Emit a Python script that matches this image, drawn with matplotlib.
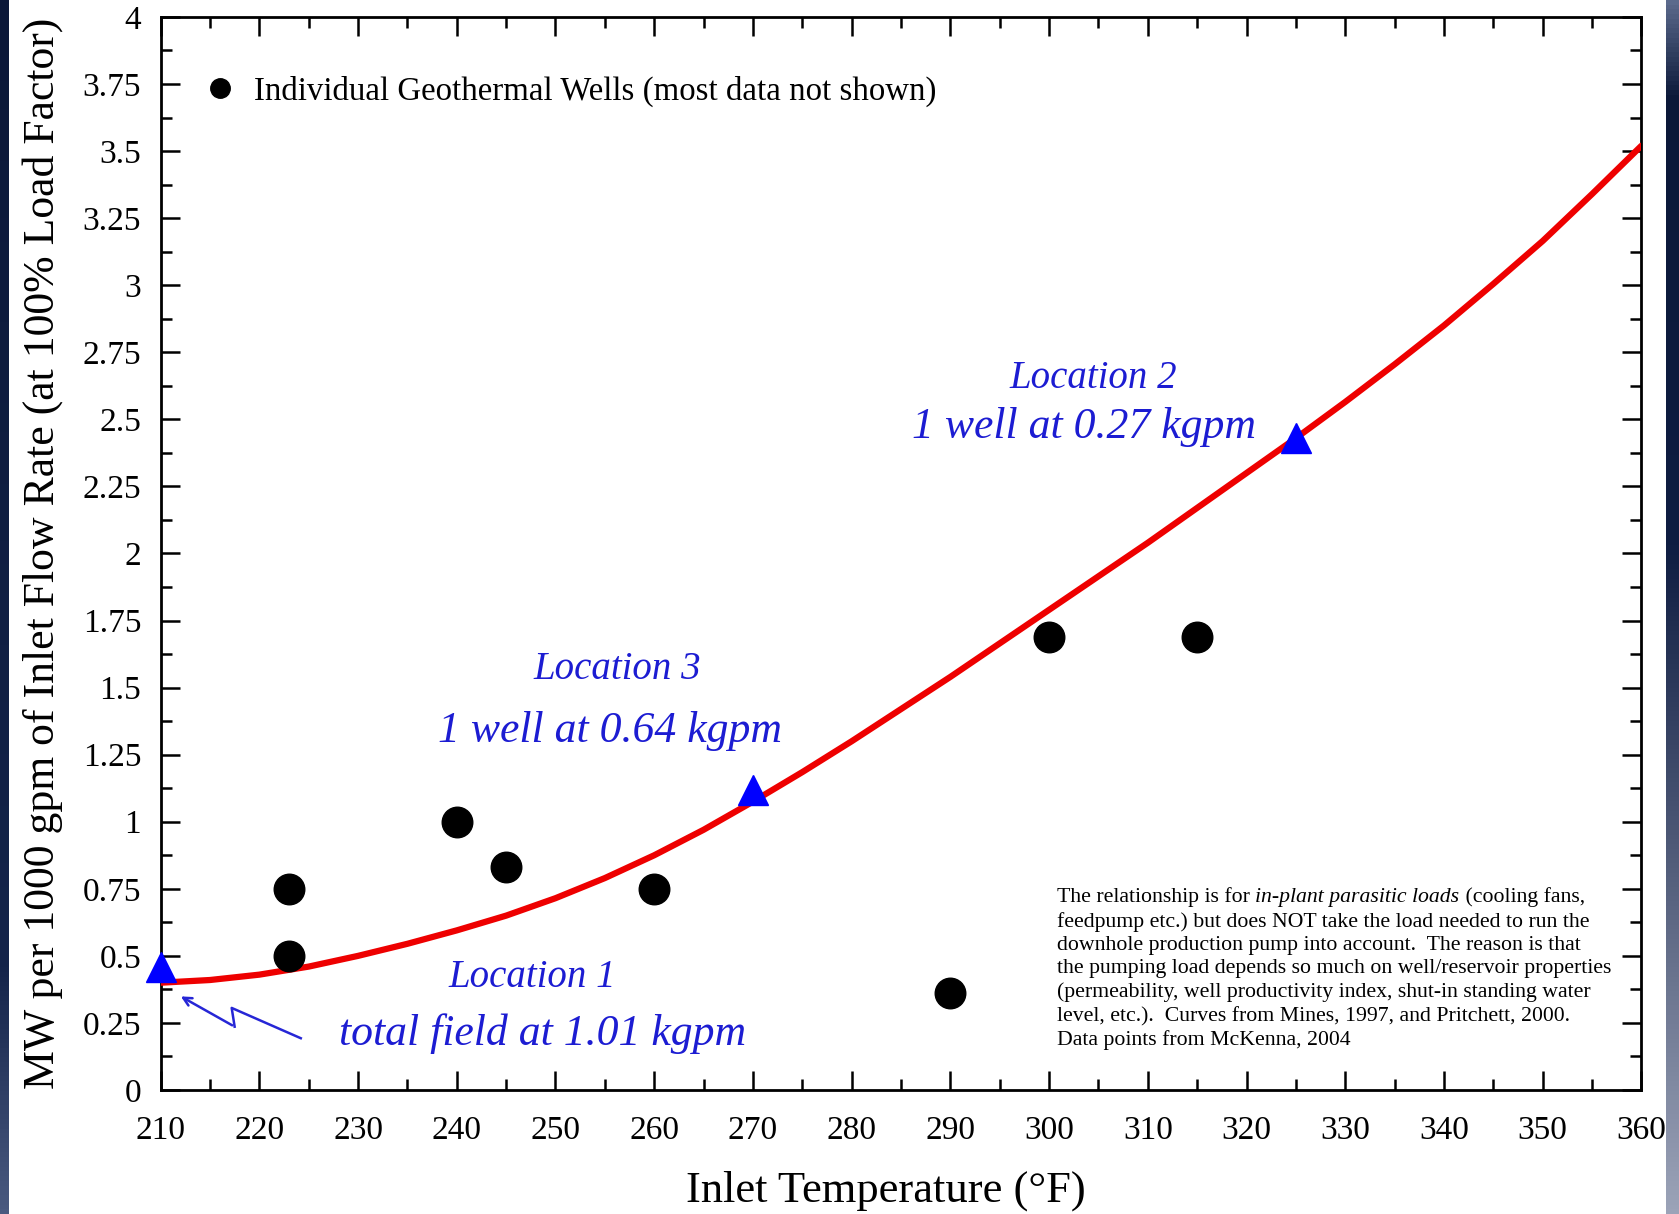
import numpy as np
import matplotlib
matplotlib.use('Agg')
import matplotlib.pyplot as plt
from matplotlib.colors import LinearSegmentedColormap
from matplotlib.lines import Line2D
from matplotlib.ticker import MultipleLocator

plt.rcParams['font.family'] = ['Liberation Serif', 'DejaVu Serif']

# red curve (parasitic load vs inlet temperature)
curve_temp = [210, 215, 220, 225, 230, 235, 240, 245, 250, 255, 260, 265, 270, 275,
              280, 285, 290, 295, 300, 305, 310, 315, 320, 325, 330, 335, 340, 345,
              350, 355, 360]
curve_mw = [0.40, 0.41, 0.43, 0.46, 0.50, 0.545, 0.595, 0.65, 0.715, 0.79, 0.875, 0.97,
            1.075, 1.185, 1.30, 1.42, 1.54, 1.665, 1.79, 1.915, 2.04, 2.17, 2.30, 2.43,
            2.565, 2.705, 2.85, 3.005, 3.165, 3.34, 3.52]

# individual wells
well_temp = [223, 223, 240, 245, 260, 290, 300, 315]
well_mw = [0.75, 0.50, 1.00, 0.83, 0.75, 0.36, 1.69, 1.69]

# the three locations (triangles)
loc_temp = [210, 270, 325]
loc_mw = [0.46, 1.12, 2.43]

note_lines = [
    "feedpump etc.) but does NOT take the load needed to run the",
    "downhole production pump into account.  The reason is that",
    "the pumping load depends so much on well/reservoir properties",
    "(permeability, well productivity index, shut-in standing water",
    "level, etc.).  Curves from Mines, 1997, and Pritchett, 2000.",
    "Data points from McKenna, 2004",
]

blue_txt = '#1c1cd2'

fig = plt.figure(figsize=(16.79, 12.14), dpi=100)
fig.patch.set_facecolor('white')


def side_strip(x0, w, stops):
    bax = fig.add_axes([x0, 0, w, 1])
    bax.axis('off')
    cmap = LinearSegmentedColormap.from_list('strip', stops)
    bax.imshow(np.linspace(0, 1, 256).reshape(-1, 1), aspect='auto', cmap=cmap,
               extent=[0, 1, 0, 1], origin='upper')


# dark slide borders
side_strip(0, 9 / 1679, [(0, '#0b1838'), (0.8, '#14244a'), (1, '#4a5a80')])
side_strip(1666 / 1679, 13 / 1679, [(0, '#5b6a8c'), (0.08, '#0b1838'), (0.45, '#0f1d42'),
                                    (1, '#9ca3b8')])

ax = fig.add_axes([0.09565, 0.10214, 0.8820, 0.8839])

ax.plot(curve_temp, curve_mw, color='#ee0000', lw=4.5, solid_capstyle='round',
        solid_joinstyle='round', zorder=3)
ax.plot(well_temp, well_mw, 'o', color='black', ms=22, zorder=4)
ax.plot(loc_temp, loc_mw, '^', color='#0000ff', ms=21, zorder=5, clip_on=False)

ax.set_xlim(210, 360)
ax.set_ylim(0, 4)
ax.xaxis.set_major_locator(MultipleLocator(10))
ax.xaxis.set_minor_locator(MultipleLocator(5))
ax.yaxis.set_major_locator(MultipleLocator(0.25))
ax.yaxis.set_minor_locator(MultipleLocator(0.125))
ax.yaxis.set_major_formatter(plt.FuncFormatter(lambda v, p: ('%g' % v)))
ax.tick_params(which='both', direction='in', top=True, right=True, width=1.8)
ax.tick_params(which='major', length=14, labelsize=24)
ax.tick_params(which='minor', length=8)
ax.tick_params(axis='x', which='major', pad=18)
ax.tick_params(axis='y', which='major', pad=14)
for sp in ax.spines.values():
    sp.set_linewidth(2)

ax.set_xlabel('Inlet Temperature (°F)', fontsize=32, labelpad=18)
ax.xaxis.label.set_x(0.4895)
ax.set_ylabel('MW per 1000 gpm of Inlet Flow Rate (at 100% Load Factor)', fontsize=31.5,
              labelpad=14)

# legend
handle = Line2D([], [], ls='none', marker='o', color='black', ms=14)
ax.legend([handle], ['Individual Geothermal Wells (most data not shown)'],
          loc='center left', bbox_to_anchor=(0.029, 0.9305), frameon=False,
          fontsize=23.7, handlelength=1.0, handletextpad=0.533, borderpad=0,
          borderaxespad=0)

# location labels
ax.text(247.6, 0.421, 'Location 1', color=blue_txt, style='italic', fontsize=28,
        ha='center', va='center')
ax.text(248.7, 0.209, 'total field at 1.01 kgpm', color=blue_txt, style='italic',
        fontsize=31.5, ha='center', va='center')
ax.text(256.3, 1.566, 'Location 3', color=blue_txt, style='italic', fontsize=28,
        ha='center', va='center')
ax.text(255.5, 1.338, '1 well at 0.64 kgpm', color=blue_txt, style='italic', fontsize=31.5,
        ha='center', va='center')
ax.text(304.5, 2.654, 'Location 2', color=blue_txt, style='italic', fontsize=28,
        ha='center', va='center')
ax.text(303.5, 2.47, '1 well at 0.27 kgpm', color=blue_txt, style='italic', fontsize=31.5,
        ha='center', va='center')

# zig-zag arrow pointing at location 1
zig_x = [224.2, 217.2, 217.5]
zig_y = [0.193, 0.306, 0.236]
ax.plot(zig_x, zig_y, color='#2626d6', lw=1.8, zorder=6)
ax.annotate('', xy=(211.8, 0.354), xytext=(zig_x[-1], zig_y[-1]),
            arrowprops=dict(arrowstyle='->,head_length=0.6,head_width=0.3',
                            color='#2626d6', lw=1.8), zorder=6)

# note in the lower right
note_fs = 15.7
t1 = ax.text(300.8, 0.682, 'The relationship is for ', fontsize=note_fs, ha='left',
             va='bottom')
t2 = ax.annotate('in-plant parasitic loads', xy=(1, 0), xycoords=t1, fontsize=note_fs,
                 style='italic', ha='left', va='bottom')
ax.annotate(' (cooling fans,', xy=(1, 0), xycoords=t2, fontsize=note_fs, ha='left',
            va='bottom')
ax.annotate('\n'.join(note_lines), xy=(0, 0), xycoords=t1, xytext=(0, -3.5),
            textcoords='offset points', fontsize=note_fs, ha='left', va='top',
            linespacing=1.3)

fig.savefig('out.png', dpi=100)
